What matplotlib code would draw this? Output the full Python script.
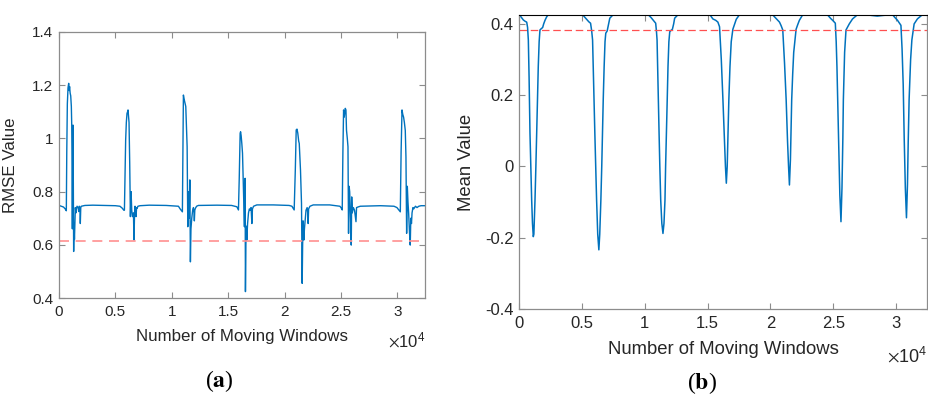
"""Moving-window RMSE (a) and mean value (b) panels, MATLAB-style look."""

import matplotlib
matplotlib.use("Agg")
import matplotlib.pyplot as plt
from matplotlib.ticker import FixedLocator, FuncFormatter

plt.rcParams["font.family"] = ["Liberation Sans", "DejaVu Sans"]
plt.rcParams["mathtext.fontset"] = "stix"
plt.rcParams["axes.unicode_minus"] = False

# ---- panel (a): RMSE value per moving window --------------------------------
rmse_x = [
    0, 200, 400, 550, 650,
    690, 740, 800, 860, 900, 940, 990, 1040, 1095, 1130, 1160, 1185, 1215,
    1245, 1270, 1300, 1330, 1370, 1420, 1450, 1500, 1540, 1600, 1690, 1750,
    1800, 1860, 1890, 1930, 1980, 2300, 3000, 4000, 5000, 5400, 5600, 5750,
    5800, 5860, 5910, 5970, 6030, 6080, 6120, 6170, 6210, 6240, 6270, 6330,
    6390, 6450, 6510, 6600, 6650, 6700, 6740, 6790, 6830, 6880, 6920, 7000,
    7190, 8000, 9500, 10590, 10740, 10940,
    10990, 11030, 11080, 11130, 11190, 11240, 11300, 11360, 11420, 11480,
    11540, 11600, 11650, 11700, 11770, 11850, 11920, 11970, 12000, 12040,
    12090, 12200, 12360, 14000, 15300, 15770, 15910,
    15980, 16060, 16100, 16150, 16210, 16270, 16350, 16440, 16470, 16500,
    16530, 16570, 16610, 16650, 16720, 16800, 16880, 16950, 17030, 17100,
    17150, 17250, 17540, 19000, 20400, 20650, 20850,
    20950, 21030, 21100, 21170, 21250, 21300, 21360, 21410, 21470, 21500,
    21530, 21560, 21600, 21640, 21710, 21760, 21800, 21900, 22000, 22050,
    22090, 22130, 22250, 22540, 24000, 24900, 25000, 25110,
    25170, 25230, 25290, 25340, 25380, 25440, 25490, 25560, 25620, 25670,
    25720, 25770, 25850, 25910, 25950, 26000, 26100, 26200, 26330, 26380,
    26500, 26710, 28500, 29700, 29960, 30260,
    30330, 30410, 30480, 30550, 30620, 30700, 30760, 30820, 30880, 30940,
    31000, 31070, 31140, 31190, 31250, 31300, 31380, 31450, 31600, 31740,
    31900, 32100, 32470,
]
rmse_y = [
    0.748, 0.745, 0.742, 0.735, 0.728,
    0.95, 1.13, 1.19, 1.207, 1.18, 1.195, 1.17, 1.16, 1.12, 1.05, 0.90, 0.66, 0.95,
    1.05, 0.80, 0.575, 0.68, 0.62, 0.70, 0.74, 0.72, 0.735, 0.745, 0.74, 0.725,
    0.745, 0.74, 0.68, 0.74, 0.745, 0.748, 0.749, 0.748, 0.747, 0.745, 0.738, 0.73,
    0.73, 0.88, 0.994, 1.06, 1.094, 1.10, 1.107, 1.08, 1.06, 0.98, 0.906, 0.706,
    0.80, 0.73, 0.706, 0.72, 0.618, 0.72, 0.745, 0.72, 0.706, 0.74, 0.737, 0.745,
    0.747, 0.749, 0.748, 0.745, 0.735, 0.724,
    0.95, 1.163, 1.15, 1.14, 1.13, 1.12, 1.05, 0.969, 0.668, 0.80,
    0.70, 0.844, 0.536, 0.66, 0.70, 0.73, 0.74, 0.72, 0.69, 0.73,
    0.737, 0.745, 0.748, 0.749, 0.748, 0.743, 0.731,
    0.85, 1.019, 1.025, 1.01, 0.98, 0.944, 0.818, 0.668, 0.80, 0.85,
    0.424, 0.60, 0.67, 0.618, 0.68, 0.72, 0.735, 0.73, 0.74, 0.68,
    0.735, 0.745, 0.75, 0.75, 0.748, 0.745, 0.731,
    0.88, 1.032, 1.035, 1.02, 0.99, 0.981, 0.93, 0.881, 0.80, 0.756,
    0.60, 0.455, 0.60, 0.69, 0.618, 0.66, 0.68, 0.73, 0.74, 0.72,
    0.68, 0.735, 0.745, 0.75, 0.75, 0.745, 0.74, 0.731,
    0.95, 1.107, 1.08, 1.10, 1.113, 1.107, 1.03, 1.00, 0.969, 0.643,
    0.82, 0.80, 0.70, 0.599, 0.78, 0.72, 0.74, 0.73, 0.687, 0.74,
    0.742, 0.745, 0.747, 0.745, 0.74, 0.724,
    0.95, 1.107, 1.09, 1.08, 1.06, 1.03, 0.93, 0.643, 0.82, 0.76,
    0.718, 0.65, 0.599, 0.70, 0.68, 0.72, 0.74, 0.735, 0.745, 0.74,
    0.745, 0.747, 0.747,
]
rmse_threshold = 0.615

# ---- panel (b): mean value per moving window --------------------------------
mean_x = [
    0, 150, 345, 500, 610, 680, 740, 800, 870, 940, 1005, 1070, 1135, 1180,
    1270, 1340, 1400, 1470, 1530, 1600, 1665, 1750, 1880, 1960, 2065, 2200,
    2330, 3000, 4000, 4700, 5100, 5370, 5550, 5690, 5780, 5850, 5940, 6030,
    6100, 6170, 6260, 6350, 6420, 6510, 6580, 6640, 6700, 6770, 6840, 6900,
    7010, 7100, 7220, 7490, 8500, 9500, 10300, 10500, 10660, 10870, 10930,
    10980, 11060, 11140, 11200, 11270, 11360, 11450, 11530, 11610, 11660,
    11720, 11790, 11850, 11920, 11990, 12100, 12200, 12300, 12380, 12650,
    13500, 14500, 15200, 15420, 15650, 15820, 15950, 16090, 16220, 16330,
    16420, 16490, 16560, 16620, 16690, 16780, 16880, 17010, 17150, 17280,
    17540, 18500, 19500, 20190, 20450, 20720, 20850, 20980, 21120, 21250,
    21360, 21440, 21510, 21590, 21690, 21770, 21850, 22040, 22170, 22300,
    22570, 23500, 24550, 24800, 24950, 25160, 25230, 25290, 25370, 25440,
    25520, 25610, 25690, 25760, 25800, 25900, 26010, 26270, 26530, 26930,
    27500, 28000, 28500, 29000, 29710, 29900, 30110, 30380, 30470, 30560,
    30640, 30730, 30820, 30900, 30960, 31030, 31150, 31250, 31430, 31690,
    32090, 32470,
]
mean_y = [
    0.428, 0.42, 0.411, 0.407, 0.405, 0.39, 0.355, 0.25, 0.094, 0.0, -0.094, -0.16, -0.197, -0.19,
    -0.094, 0.0, 0.094, 0.19, 0.28, 0.35, 0.383, 0.386, 0.39, 0.40, 0.41, 0.42,
    0.426, 0.428, 0.427, 0.428, 0.424, 0.413, 0.406, 0.402, 0.38, 0.355, 0.22, 0.094,
    0.0, -0.094, -0.19, -0.234, -0.19, -0.094, 0.0, 0.094, 0.19, 0.28, 0.35, 0.374,
    0.38, 0.395, 0.416, 0.426, 0.428, 0.427, 0.425, 0.418, 0.411, 0.402, 0.38,
    0.355, 0.22, 0.094, 0.0, -0.094, -0.16, -0.188, -0.16, -0.094, 0.0,
    0.094, 0.19, 0.28, 0.35, 0.378, 0.382, 0.385, 0.40, 0.416, 0.426,
    0.428, 0.427, 0.425, 0.414, 0.41, 0.405, 0.392, 0.30, 0.187, 0.08,
    0.0, -0.047, 0.0, 0.09, 0.187, 0.28, 0.35, 0.385, 0.40, 0.413,
    0.426, 0.428, 0.427, 0.425, 0.415, 0.405, 0.395, 0.383, 0.29, 0.187,
    0.07, 0.0, -0.052, 0.02, 0.187, 0.26, 0.32, 0.385, 0.398, 0.41,
    0.426, 0.428, 0.425, 0.415, 0.41, 0.402, 0.35, 0.28, 0.15, 0.03,
    -0.08, -0.155, -0.06, 0.08, 0.187, 0.32, 0.383, 0.40, 0.414, 0.426,
    0.427, 0.424, 0.422, 0.424, 0.426, 0.418, 0.41, 0.396, 0.33, 0.23,
    0.08, -0.06, -0.144, -0.05, 0.07, 0.187, 0.30, 0.355, 0.40, 0.414,
    0.426, 0.425,
]
mean_threshold = 0.382

x_ticks = [0, 5000, 10000, 15000, 20000, 25000, 30000]
rmse_ticks = [0.4, 0.6, 0.8, 1.0, 1.2, 1.4]
mean_ticks = [-0.4, -0.2, 0.0, 0.2, 0.4]
X_MAX = 32450

LINE_BLUE = "#0072BD"
SPINE_GRAY = "#8c8c8c"
TEXT_DARK = "#262626"


def style_axes(ax, yticks, size):
    ax.xaxis.set_major_locator(FixedLocator(x_ticks))
    ax.xaxis.set_major_formatter(FuncFormatter(lambda v, _: f"{v / 1e4:g}"))
    ax.yaxis.set_major_locator(FixedLocator(yticks))
    ax.yaxis.set_major_formatter(FuncFormatter(lambda v, _: f"{v:g}"))
    ax.tick_params(direction="in", length=4, width=0.8, color=SPINE_GRAY,
                   labelcolor=TEXT_DARK, labelsize=size, top=True, right=True)
    ax.tick_params(axis="x", pad=5)
    ax.tick_params(axis="y", pad=4)
    for sp in ax.spines.values():
        sp.set_color(SPINE_GRAY)
        sp.set_linewidth(0.9)


fig = plt.figure(figsize=(9.29, 3.99), dpi=100)
ax_a = fig.add_axes([0.0635, 0.2531, 0.394, 0.6667])
ax_b = fig.add_axes([0.5587, 0.2256, 0.4391, 0.7368])

# (a) RMSE
ax_a.plot(rmse_x, rmse_y, color=LINE_BLUE, lw=1.0)
ax_a.axhline(rmse_threshold, color="#ff9090", lw=1.2, dashes=(6, 4))
ax_a.set_xlim(0, X_MAX)
ax_a.set_ylim(0.4, 1.4)
style_axes(ax_a, rmse_ticks, 11)
ax_a.set_xlabel("Number of Moving Windows", fontsize=12.2, color=TEXT_DARK)
ax_a.xaxis.set_label_coords(0.5, -0.115)
ax_a.set_ylabel("RMSE Value", fontsize=12.2, color=TEXT_DARK)
ax_a.yaxis.set_label_coords(-0.112, 0.5)
ax_a.text(1.0, -0.185, r"$\times\mathregular{10^{4}}$", transform=ax_a.transAxes,
          ha="right", va="baseline", fontsize=12, color=TEXT_DARK)

# (b) mean value
ax_b.plot(mean_x, mean_y, color=LINE_BLUE, lw=1.1)
ax_b.axhline(mean_threshold, color="#ff5050", lw=0.9, dashes=(6, 3))
ax_b.set_xlim(0, X_MAX)
ax_b.set_ylim(-0.4, 0.425)
style_axes(ax_b, mean_ticks, 12)
ax_b.spines["top"].set_color("black")
ax_b.spines["top"].set_linewidth(0.8)
ax_b.set_xlabel("Number of Moving Windows", fontsize=13.3, color=TEXT_DARK)
ax_b.xaxis.set_label_coords(0.5, -0.11)
ax_b.set_ylabel("Mean Value", fontsize=13.3, color=TEXT_DARK)
ax_b.yaxis.set_label_coords(-0.108, 0.5)
ax_b.text(1.0, -0.18, r"$\times\mathregular{10^{4}}$", transform=ax_b.transAxes,
          ha="right", va="baseline", fontsize=13, color=TEXT_DARK)

# panel letters
for xpos, ypos, letter in [(219, 381, "a"), (702, 383, "b")]:
    fig.text(xpos / 929, 1 - ypos / 399, rf"($\mathbf{{{letter}}}$)",
             ha="center", va="center", fontsize=17, family="Liberation Serif")

fig.savefig("out.png", dpi=100)
